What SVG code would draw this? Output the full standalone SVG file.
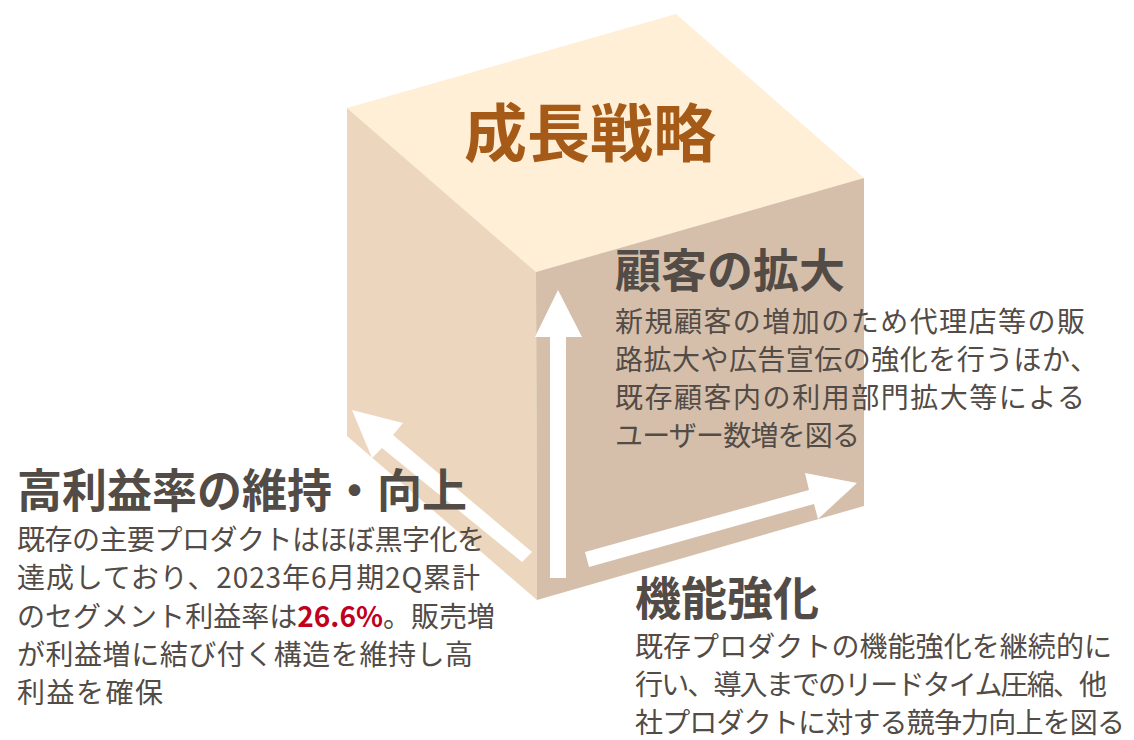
<svg xmlns="http://www.w3.org/2000/svg" width="1134" height="740" viewBox="0 0 1134 740">
<style>
.t{font-family:"Noto Sans CJK JP","Noto Sans",sans-serif;fill:#524B46}
.h{font-size:46px;font-weight:700}
.b{font-size:28px;font-weight:400}
.arrow{fill:#FFFFFF}
</style>
<rect width="1134" height="740" fill="#FFFFFF"/>
<g id="cube">
<polygon points="347,108 676,14 864,178 536,272" fill="#FEEFD6"/>
<polygon points="347,108 536,272 537,600 347,436" fill="#EDD6BE"/>
<polygon points="536,272 864,178 864,506 537,600" fill="#D5BFAB"/>
</g>
<g id="connectors">
<polygon class="arrow" points="558,290 582,337 566,337 566,578 550,578 550,337 535,337"/>
<polygon class="arrow" points="352,410 403,423 393,435 532,552 522,562 382,448 372,458"/>
<polygon class="arrow" points="857,483 818,519 814,504 589,567 585,552 809,490 805,473"/>
</g>
<g id="title">
<text x="590" y="156" text-anchor="middle" font-family="Noto Sans CJK JP, sans-serif" font-size="63" font-weight="700" fill="#A65A17">成長戦略</text>
</g>
<g id="node-customer">
<text class="t h" x="615" y="287">顧客の拡大</text>
<text class="t b" x="615" y="332" textLength="470" lengthAdjust="spacing">新規顧客の増加のため代理店等の販</text>
<text class="t b" x="615" y="370" textLength="483" lengthAdjust="spacing">路拡大や広告宣伝の強化を行うほか、</text>
<text class="t b" x="615" y="408" textLength="470" lengthAdjust="spacing">既存顧客内の利用部門拡大等による</text>
<text class="t b" x="615" y="446" textLength="245" lengthAdjust="spacing">ユーザー数増を図る</text>
</g>
<g id="node-profit">
<text class="t h" x="17" y="507" font-size="45" textLength="450" lengthAdjust="spacingAndGlyphs">高利益率の維持・向上</text>
<text class="t b" x="17" y="550" textLength="468" lengthAdjust="spacing">既存の主要プロダクトはほぼ黒字化を</text>
<text class="t b" x="17" y="588" textLength="463" lengthAdjust="spacing">達成しており、2023年6月期2Q累計</text>
<text class="t b" x="17" y="627" textLength="478" lengthAdjust="spacing">のセグメント利益率は<tspan font-weight="700" fill="#C0001E">26.6%</tspan>。販売増</text>
<text class="t b" x="17" y="665" textLength="456" lengthAdjust="spacing">が利益増に結び付く構造を維持し高</text>
<text class="t b" x="17" y="703" textLength="146" lengthAdjust="spacing">利益を確保</text>
</g>
<g id="node-function">
<text class="t h" x="635" y="615">機能強化</text>
<text class="t b" x="635" y="657" textLength="477" lengthAdjust="spacing">既存プロダクトの機能強化を継続的に</text>
<text class="t b" x="635" y="695" textLength="472" lengthAdjust="spacing">行い、導入までのリードタイム圧縮、他</text>
<text class="t b" x="635" y="733" textLength="490" lengthAdjust="spacing">社プロダクトに対する競争力向上を図る</text>
</g>
</svg>
